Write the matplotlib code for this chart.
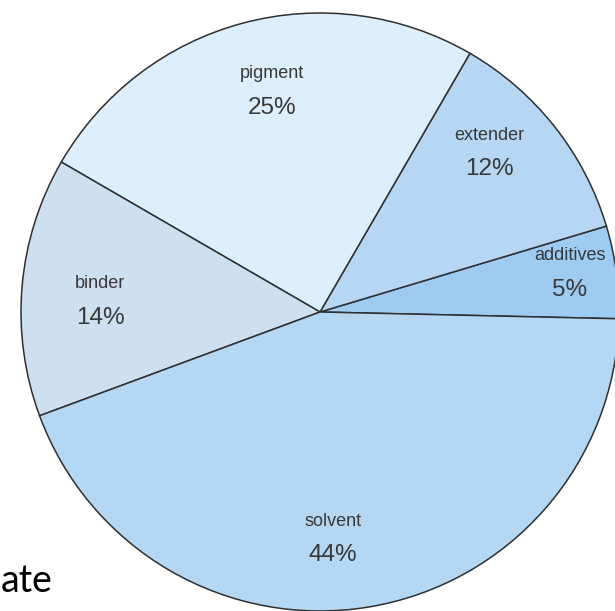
import matplotlib
matplotlib.use("Agg")
import matplotlib.pyplot as plt

# paint composition, counter-clockwise from the 3 o'clock line
labels = ["additives", "extender", "pigment", "binder", "solvent"]
shares = [5, 12, 25, 14, 44]
colors = ["#9ecbf1", "#b5d7f3", "#ddeefc", "#cee0ef", "#b4d7f4"]
# label anchor points (pixel coords, y from top)
label_pos = [(570, 273), (489, 152), (272, 91), (100, 301), (333, 538)]

W, H = 615, 611
fig = plt.figure(figsize=(W / 100, H / 100), dpi=100)
ax = fig.add_axes([0, 0, 1, 1])

cx, cy, r = 320, H - 312, 299
ax.pie(shares, colors=colors, startangle=-1.3, counterclock=True,
       center=(cx, cy), radius=r, frame=True,
       wedgeprops=dict(edgecolor="#2f2f2f", linewidth=1.1))
ax.set_xlim(0, W)
ax.set_ylim(0, H)
ax.set_aspect("equal")
ax.axis("off")

for name, val, (x, y) in zip(labels, shares, label_pos):
    ax.text(x, H - y + 17, name, ha="center", va="center",
            fontsize=13, color="#383838", family="Liberation Sans")
    ax.text(x, H - y - 17, f"{val}%", ha="center", va="center",
            fontsize=17.5, color="#383838", family="Liberation Sans")

# stray word from the surrounding page
ax.text(1, H - 581, "ate", ha="left", va="center", fontsize=27,
        color="black", family="Lato")

fig.savefig("out.png", dpi=100)
